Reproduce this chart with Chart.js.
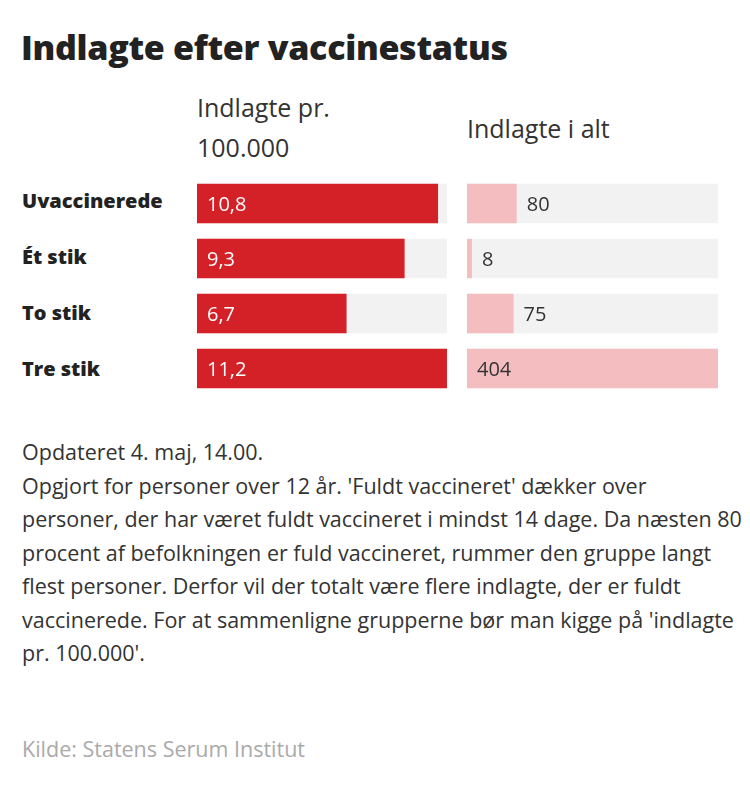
<!DOCTYPE html>
<html lang="da">
<head>
<meta charset="UTF-8">
<title>Indlagte efter vaccinestatus</title>
<script src="https://cdn.jsdelivr.net/npm/chart.js"></script>
<style>
  body { margin:0; width:750px; height:796px; background:#fff; font-family:"Open Sans", Lato, sans-serif; color:#333; position:relative; }
  h1 { position:absolute; left:21px; top:24px; margin:0; font-size:34px; font-weight:800; color:#222; letter-spacing:-0.3px; }
  .hdr { position:absolute; font-size:25px; line-height:40px; color:#333; }
  .cat { position:absolute; left:22px; font-size:20px; font-weight:800; color:#222; }
  .box { position:absolute; top:176px; height:220px; }
  .note { position:absolute; left:22px; top:435px; width:720px; font-size:21.5px; line-height:33.5px; color:#333; }
  .src { position:absolute; left:22px; top:734px; font-size:21.5px; color:#aaa; }
</style>
</head>
<body>
<h1>Indlagte efter vaccinestatus</h1>
<div class="hdr" style="left:197px;top:87px">Indlagte pr.<br>100.000</div>
<div class="hdr" style="left:467px;top:108px">Indlagte i alt</div>
<div id="cats"></div>
<div class="box" style="left:197px;width:250px"><canvas id="c1"></canvas></div>
<div class="box" style="left:467px;width:251px"><canvas id="c2"></canvas></div>
<div class="note">Opdateret 4. maj, 14.00.<br>Opgjort for personer over 12 år. 'Fuldt vaccineret' dækker over personer, der har været fuldt vaccineret i mindst 14 dage. Da næsten 80 procent af befolkningen er fuld vaccineret, rummer den gruppe langt flest personer. Derfor vil der totalt være flere indlagte, der er fuldt vaccinerede. For at sammenligne grupperne bør man kigge på 'indlagte pr. 100.000'.</div>
<div class="src">Kilde: Statens Serum Institut</div>
<script>
const categories = ['Uvaccinerede', 'Ét stik', 'To stik', 'Tre stik'];
const per100k = [10.8, 9.3, 6.7, 11.2];
const total = [80, 8, 75, 404];

const catBox = document.getElementById('cats');
categories.forEach((c, i) => {
  const d = document.createElement('div');
  d.className = 'cat';
  d.style.top = (187 + i * 56) + 'px';
  d.textContent = c;
  catBox.appendChild(d);
});

const fmt = v => String(v).replace('.', ',');

const labelPlugin = {
  id: 'vals',
  afterDatasetsDraw(chart, args, opts) {
    const ctx = chart.ctx;
    const meta = chart.getDatasetMeta(1);
    ctx.save();
    ctx.font = '20px "Open Sans", sans-serif';
    ctx.textBaseline = 'middle';
    meta.data.forEach((bar, i) => {
      const v = chart.data.datasets[1].data[i];
      const left = chart.chartArea.left;
      let x, col;
      if (opts.inside || bar.x - left > 60) { x = left + 10; col = opts.inColor; }
      else { x = bar.x + 10; col = '#333'; }
      ctx.fillStyle = col;
      ctx.fillText(fmt(v), x, bar.y + 2);
    });
    ctx.restore();
  }
};

function makeChart(id, values, color, max, inside, inColor) {
  new Chart(document.getElementById(id), {
    type: 'bar',
    data: {
      labels: categories,
      datasets: [
        { data: values.map(() => max), backgroundColor: '#f2f2f2', grouped: false, order: 2, barPercentage: 1, categoryPercentage: 40 / 56 },
        { data: values, backgroundColor: color, grouped: false, order: 1, barPercentage: 1, categoryPercentage: 40 / 56 }
      ]
    },
    options: {
      indexAxis: 'y',
      responsive: true,
      maintainAspectRatio: false,
      animation: false,
      layout: { padding: 0 },
      scales: {
        x: { display: false, min: 0, max: max },
        y: { display: false }
      },
      plugins: {
        legend: { display: false },
        tooltip: { enabled: false },
        vals: { inside: inside, inColor: inColor }
      }
    },
    plugins: [labelPlugin]
  });
}

makeChart('c1', per100k, '#d42027', 11.2, true, '#fff');
makeChart('c2', total, '#f4bec1', 404, false, '#333');
</script>
</body>
</html>
